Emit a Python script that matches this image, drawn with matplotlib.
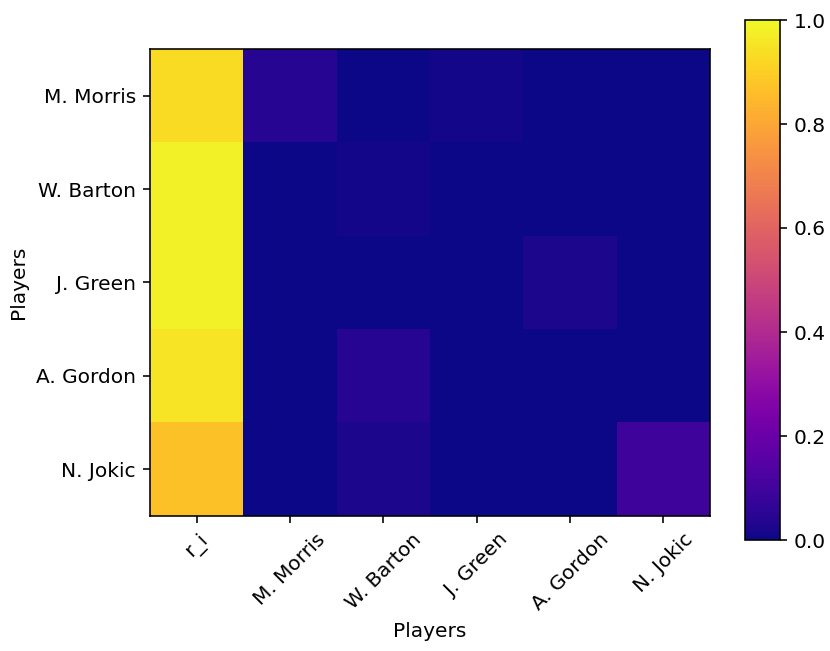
import numpy as np
import matplotlib
matplotlib.use('Agg')
import matplotlib.pyplot as plt

players = ['M. Morris', 'W. Barton', 'J. Green', 'A. Gordon', 'N. Jokic']
columns = ['r_i'] + players

r_i = [0.93, 0.98, 0.98, 0.95, 0.87]
m_morris = [0.04, 0.00, 0.00, 0.00, 0.00]
w_barton = [0.00, 0.01, 0.00, 0.04, 0.02]
j_green = [0.01, 0.00, 0.00, 0.00, 0.00]
a_gordon = [0.00, 0.00, 0.02, 0.00, 0.00]
n_jokic = [0.00, 0.00, 0.00, 0.00, 0.09]

data = np.column_stack([r_i, m_morris, w_barton, j_green, a_gordon, n_jokic])

dpi = 145
fig = plt.figure(figsize=(830/dpi, 651/dpi), dpi=dpi)
ax = fig.add_axes([150/830, 1-544/651, 560/830, 523/651])
cax = fig.add_axes([745/830, 1-540/651, 35/830, 520/651])

im = ax.imshow(data, cmap='plasma', vmin=0, vmax=1)
ax.set_xticks(range(len(columns)))
ax.set_xticklabels(columns, rotation=45)
ax.set_yticks(range(len(players)))
ax.set_yticklabels(players)
ax.set_xlabel('Players')
ax.set_ylabel('Players')

fig.colorbar(im, cax=cax)

plt.savefig('out.png', dpi=dpi)
